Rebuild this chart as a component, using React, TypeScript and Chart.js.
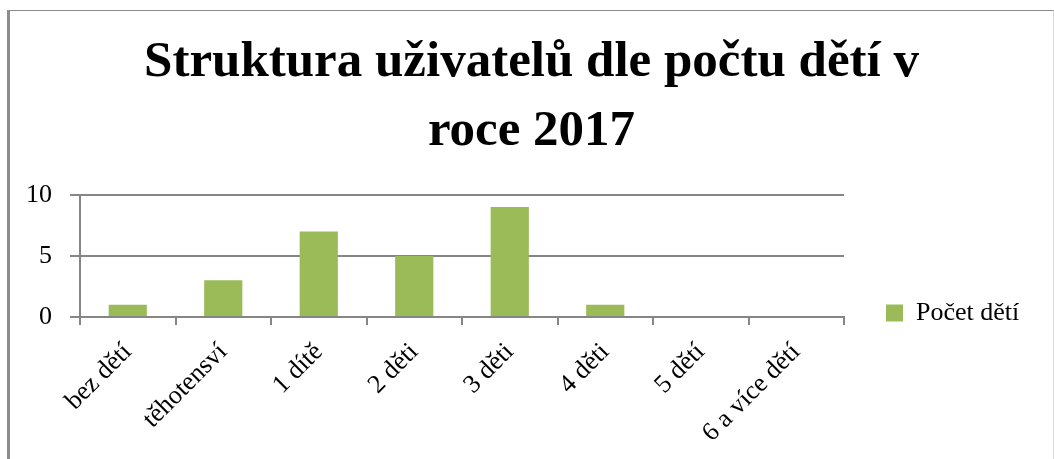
import React, { useEffect, useRef } from "react";
import { Chart, registerables } from "chart.js";

Chart.register(...registerables);

const titleLines = ["Struktura uživatelů dle počtu dětí v", "roce 2017"];
const categories = ["bez dětí", "těhotensví", "1 dítě", "2 děti", "3 děti", "4 děti", "5 dětí", "6 a více dětí"];
const seriesLabel = "Počet dětí";
const seriesValues = [1, 3, 7, 5, 9, 1, 0, 0];
const yMin = 0;
const yMax = 10;
const yStep = 5;

const CANVAS_W = 1043;
const CANVAS_H = 604;
const GRID = "#868686";
const GREEN = "#9BBB59";
const FONT = "'Liberation Serif', 'Times New Roman', serif";

const legendWidthPlugin = {
  id: "legendWidth",
  afterInit(chart: any) {
    const lg = chart.legend;
    if (!lg || lg.__patched) return;
    const orig = lg.fit.bind(lg);
    lg.fit = () => {
      orig();
      lg.width = 209;
    };
    lg.__patched = true;
  },
};

export default function App() {
  const ref = useRef<HTMLCanvasElement | null>(null);

  useEffect(() => {
    if (!ref.current) return;
    const chart = new Chart(ref.current, {
      type: "bar",
      data: {
        labels: categories,
        datasets: [
          {
            label: seriesLabel,
            data: seriesValues,
            backgroundColor: GREEN,
            borderWidth: 0,
            categoryPercentage: 1,
            barPercentage: 0.4,
          },
        ],
      },
      plugins: [legendWidthPlugin],
      options: {
        responsive: false,
        animation: false,
        devicePixelRatio: 1,
        layout: { padding: 0 },
        plugins: {
          tooltip: { enabled: false },
          title: {
            display: true,
            text: titleLines,
            color: "#000",
            font: { family: FONT, size: 51, weight: "bold", lineHeight: 1.341 },
            padding: { top: 18, bottom: 29 },
          },
          legend: {
            display: true,
            position: "right",
            labels: {
              color: "#000",
              font: { family: FONT, size: 26 },
              boxWidth: 17,
              boxHeight: 17,
              padding: 42,
            },
          },
        },
        scales: {
          x: {
            offset: true,
            grid: {
              display: true,
              offset: true,
              drawOnChartArea: false,
              drawTicks: true,
              tickLength: 8,
              color: GRID,
              lineWidth: 2,
            },
            border: { display: true, color: GRID, width: 2 },
            ticks: {
              autoSkip: false,
              minRotation: 45,
              maxRotation: 45,
              padding: 12,
              color: "#000",
              font: { family: FONT, size: 26 },
            },
            afterFit: (s: any) => {
              s.height = CANVAS_H - 306;
            },
          },
          y: {
            min: yMin,
            max: yMax,
            grid: {
              display: true,
              color: GRID,
              lineWidth: 2,
              tickLength: 10,
              drawTicks: true,
            },
            border: { display: true, color: GRID, width: 2 },
            ticks: {
              stepSize: yStep,
              padding: 18,
              color: "#000",
              font: { family: FONT, size: 26 },
            },
            afterFit: (s: any) => {
              s.width = 70;
            },
          },
        },
      },
    });
    return () => chart.destroy();
  }, []);

  return (
    <div
      style={{
        position: "absolute",
        left: 7,
        top: 10,
        width: 1047,
        height: 449,
        overflow: "hidden",
        boxSizing: "border-box",
        borderLeft: "3px solid #8c8c8c",
        borderTop: "1px solid #8c8c8c",
        borderRight: "1px solid #d9d9d9",
        background: "#fff",
      }}
    >
      <canvas ref={ref} width={CANVAS_W} height={CANVAS_H} style={{ display: "block" }} />
    </div>
  );
}
